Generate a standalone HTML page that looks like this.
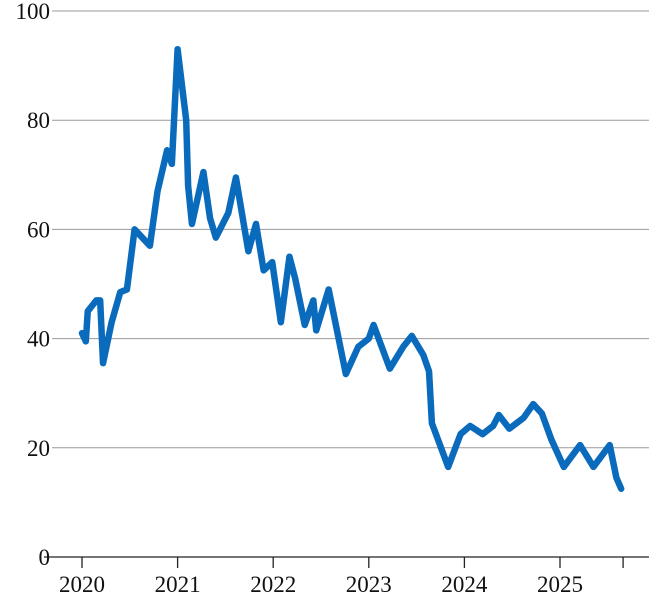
<!DOCTYPE html>
<html><head><meta charset="utf-8"><style>
html,body{margin:0;padding:0;background:#fff;}
svg{display:block;font-family:"Liberation Serif",serif;}
</style></head><body>
<svg id="chart" width="649" height="598" viewBox="0 0 649 598"></svg>
<script>
const yTicks=[0,20,40,60,80,100];
const xTickYears=[2020,2021,2022,2023,2024,2025];
const xTickLabels=["2020","2021","2022","2023","2024","2025"];
const dates=[2020.00,2020.04,2020.06,2020.15,2020.19,2020.22,2020.31,2020.40,2020.47,2020.55,2020.71,2020.79,2020.89,2020.94,2021.00,2021.09,2021.11,2021.15,2021.27,2021.34,2021.40,2021.53,2021.61,2021.74,2021.82,2021.90,2021.99,2022.08,2022.17,2022.23,2022.33,2022.42,2022.45,2022.58,2022.76,2022.89,2023.00,2023.05,2023.22,2023.36,2023.45,2023.57,2023.63,2023.66,2023.83,2023.96,2024.06,2024.19,2024.30,2024.36,2024.47,2024.62,2024.72,2024.81,2024.91,2025.04,2025.21,2025.35,2025.52,2025.59,2025.64];
const values=[41,39.5,45,47,47,35.5,43,48.5,49,60,57,67,74.5,72,93,80,68,61,70.5,62,58.5,63,69.5,56,61,52.5,54,43,55,51,42.5,47,41.5,49,33.5,38.5,40,42.5,34.5,38.5,40.5,37,34,24.5,16.5,22.5,24,22.5,24,26,23.5,25.5,28,26.3,21.5,16.5,20.5,16.5,20.5,14.5,12.5];
const lastTick=2025.66;
const svg=document.getElementById('chart');
const NS='http://www.w3.org/2000/svg';
const x=t=>82+(t-2020)*95.6;
const y=v=>557-v*5.46;
function mk(tag,attrs){const e=document.createElementNS(NS,tag);for(const k in attrs)e.setAttribute(k,attrs[k]);svg.appendChild(e);return e;}
yTicks.forEach(v=>{
  if(v>0){const g=mk('line',{x1:52,x2:649,y1:y(v),y2:y(v),stroke:'#9a9a9a','stroke-width':1});
  
  }
  const t=mk('text',{x:50,y:y(v)+8,'text-anchor':'end','font-size':23,fill:'#111'});
  t.textContent=String(v);
  
  
});
const ax=mk('line',{x1:44,x2:649,y1:557,y2:557,stroke:'#222','stroke-width':1.3});


xTickYears.forEach((yr,i)=>{
  const tk=mk('line',{x1:x(yr),x2:x(yr),y1:557,y2:568,stroke:'#222','stroke-width':1.3});
  
  
  const t=mk('text',{x:x(yr),y:592,'text-anchor':'middle','font-size':23,fill:'#111'});
  t.textContent=xTickLabels[i];
  
  
});
const lt=mk('line',{x1:x(lastTick),x2:x(lastTick),y1:557,y2:568,stroke:'#222','stroke-width':1.3});


const p=mk('polyline',{points:dates.map((d,i)=>x(d)+','+y(values[i])).join(' '),fill:'none',stroke:'#0a6bbd','stroke-width':6.5,'stroke-linejoin':'round','stroke-linecap':'round'});


</script>
</body></html>
